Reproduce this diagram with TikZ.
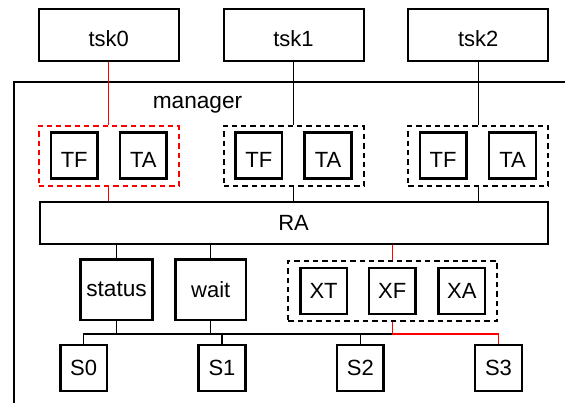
\documentclass[tikz,border=0pt]{standalone}
\usepackage{fontspec}
\setmainfont{Liberation Sans}
\begin{document}
\begin{tikzpicture}[x=0.75pt,y=-0.75pt,
  font=\fontsize{16.5}{19.5}\selectfont,
  outerbox/.style={draw, line width=1.5pt, inner sep=0pt, minimum width=105pt, minimum height=39pt},
  unitbox/.style={draw, line width=1.9pt, inner sep=0pt, minimum width=35pt, minimum height=34.5pt},
  lowtext/.style={text height=18pt, text depth=0pt},
  grp/.style={draw, dashed, dash pattern=on 4pt off 3pt, line width=1.5pt, inner sep=0pt},
  link/.style={line width=0.95pt},
  hot/.style={link, red}]
  \clip (0,0) rectangle (565,403);
  \fill[white] (0,0) rectangle (565,403);

  % enclosing manager frame, running past the picture edge
  \draw[line width=1.5pt] (14,82) rectangle (620,460);
  \node[font=\fontsize{17}{20}\selectfont] (mgrlabel) at (197.5,105) {manager};

  % tasks
  \node[outerbox, lowtext] (tsk0) at (108.8,35) {tsk0};
  \node[outerbox, lowtext] (tsk1) at (293.5,35) {tsk1};
  \node[outerbox, lowtext] (tsk2) at (478.2,35) {tsk2};

  % per-task groups
  \node[grp, red, minimum width=105pt, minimum height=45pt] (g0) at (108.8,156) {};
  \node[grp, minimum width=105pt, minimum height=45pt] (g1) at (293.5,156) {};
  \node[grp, minimum width=105pt, minimum height=45pt] (g2) at (478.2,156) {};
  \node[unitbox, lowtext] (tf0) at (74.2,155.5) {TF};
  \node[unitbox, lowtext] (ta0) at (143.4,155.5) {TA};
  \node[unitbox, lowtext] (tf1) at (258.8,155.5) {TF};
  \node[unitbox, lowtext] (ta1) at (328.0,155.5) {TA};
  \node[unitbox, lowtext] (tf2) at (443.1,155.5) {TF};
  \node[unitbox, lowtext] (ta2) at (512.5,155.5) {TA};

  % RA bar
  \node[draw, line width=1.5pt, inner sep=0pt, minimum width=381pt, minimum height=31.3pt] (ra) at (293.6,223.2) {RA};

  % status / wait
  \node[draw, line width=1.9pt, inner sep=0pt, minimum width=53.8pt, minimum height=45.5pt, font=\fontsize{17}{20}\selectfont] (status) at (116.5,289.7) {status};
  \node[draw, line width=1.9pt, inner sep=0pt, minimum width=52.7pt, minimum height=45.5pt] (wait) at (210.7,289.7) {wait};

  % X group
  \node[grp, minimum width=156.8pt, minimum height=45pt] (xg) at (392.8,291) {};
  \node[unitbox] (xt) at (323.6,290.8) {XT};
  \node[unitbox] (xf) at (392.2,290.8) {XF};
  \node[unitbox] (xa) at (461.8,290.8) {XA};

  % slots
  \node[unitbox] (s0) at (83.6,368) {S0};
  \node[unitbox] (s1) at (222.0,368) {S1};
  \node[unitbox] (s2) at (360.4,368) {S2};
  \node[unitbox] (s3) at (498.5,368) {S3};

  \coordinate (bus) at (0,334);

  % task links
  \draw[hot] (tsk0.south) -- (g0.north);
  \draw[link] (tsk1.south) -- (g1.north);
  \draw[link] (tsk2.south) -- (g2.north);
  \draw[hot] (g0.south) -- (g0.south |- ra.north);
  \draw[link] (g1.south) -- (g1.south |- ra.north);
  \draw[link] (g2.south) -- (g2.south |- ra.north);

  % RA links
  \draw[link] (status.north) -- (status.north |- ra.south);
  \draw[link] (wait.north) -- (wait.north |- ra.south);
  \draw[hot] (xg.north) -- (xg.north |- ra.south);

  % slot bus
  \draw[link] (status.south) -- (status.south |- bus);
  \draw[link] (wait.south) -- (wait.south |- bus);
  \draw[link] (s0.north) -- (s0.north |- bus) -- (xg.south |- bus);
  \draw[link] (s1.north) -- (s1.north |- bus);
  \draw[link] (s2.north) -- (s2.north |- bus);
  \draw[hot] (xg.south) -- (xg.south |- bus) -- (s3.north |- bus) -- (s3.north);
\end{tikzpicture}
\end{document}
